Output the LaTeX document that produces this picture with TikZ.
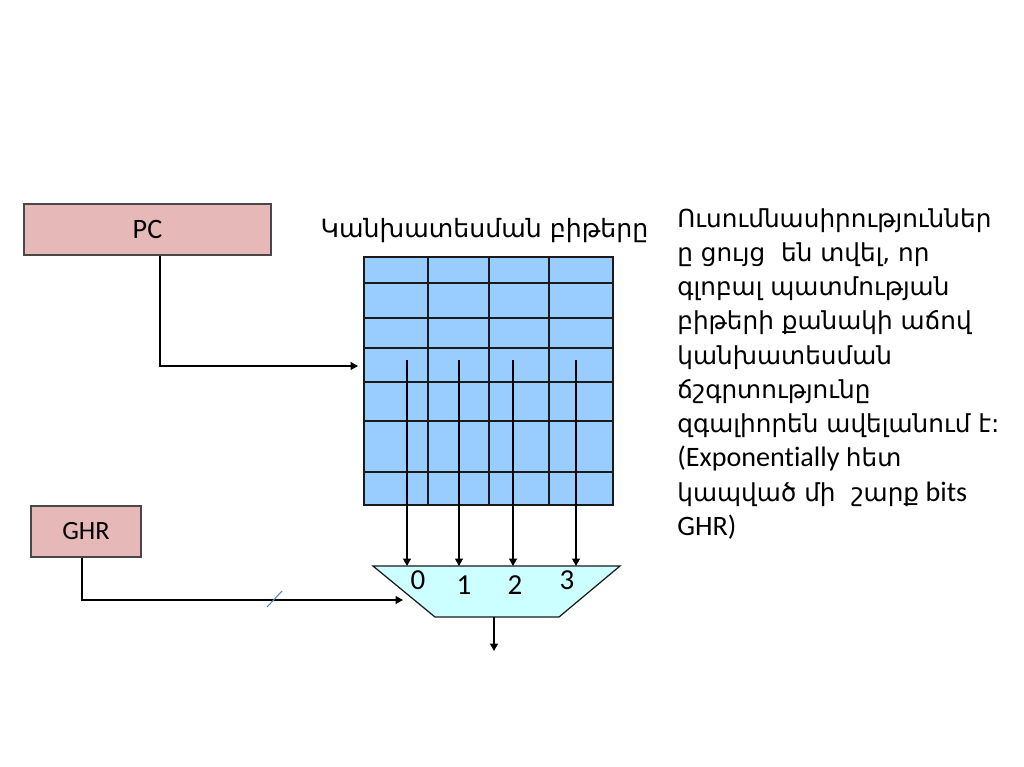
\documentclass[tikz,border=0pt]{standalone}
\usepackage{fontspec}
\setmainfont{Carlito}[Ligatures=NoCommon]
\newfontfamily\armfont[Scale=0.88]{DejaVu Sans}
\usetikzlibrary{arrows.meta,positioning,shapes.geometric}
\usepackage{xcolor}
\definecolor{regpink}{HTML}{E6B9B8}
\definecolor{tableblue}{HTML}{99CCFF}
\definecolor{muxcyan}{HTML}{CCFFFF}
\definecolor{dark}{HTML}{1A1A1A}
\definecolor{slashblue}{HTML}{5B7DB1}
\newcommand{\hy}[1]{{\armfont #1}}
\tikzset{
  reg/.style={draw=dark!80, line width=0.7pt, fill=regpink, minimum height=1.02cm, inner sep=0pt, font=\fontsize{16}{18}\selectfont},
  table/.style={draw=dark, line width=0.7pt, fill=tableblue, minimum width=4.98cm, minimum height=4.96cm, inner sep=0pt},
  muxbody/.style={draw=dark, line width=0.7pt, fill=muxcyan},
  gridline/.style={draw=dark, line width=0.7pt},
  arrow/.style={-{Triangle[length=1.5mm,width=1.6mm]}, line width=0.8pt, draw=black},
  digit/.style={font=\fontsize{16.5}{18}\selectfont, inner sep=0pt}
}
\begin{document}
\begin{tikzpicture}[x=0.02cm, y=-0.02cm]
  \useasboundingbox (0,0) rectangle (1024,767);
  \node[reg, minimum width=4.94cm] (pc) at (147.5,229.5) {PC};
  \node[reg, minimum width=2.2cm, font=\fontsize{15}{18}\selectfont] (ghr) at (86,531.5) {GHR};
  \node[table] (grid) at (488.5,381) {};
  \foreach \y in {283,318,348,382,421,472}
    \draw[gridline] (grid.west |- 0,\y) -- (grid.east |- 0,\y);
  \foreach \x in {428,489,549}
    \draw[gridline] (grid.north -| \x,0) -- (grid.south -| \x,0);
  \node[anchor=base, font=\fontsize{16.3}{18}\armfont] (title) at (484.5,237) {Կանխատեսման բիթերը};
  % mux
  \coordinate (mtl) at (373,566);
  \coordinate (mtr) at (620,566);
  \coordinate (mbr) at (559,617);
  \coordinate (mbl) at (435,617);
  \draw[muxbody] (mtl) -- (mtr) -- (mbr) -- (mbl) -- cycle;
  % taps from the table into the mux inputs
  \foreach \x/\n in {407/0,459/1,513/2,576/3} {
    \coordinate (tap\n) at (\x,360);
    \draw[arrow] (tap\n) -- (tap\n |- mtl);
  }
  \node[digit] (d0) at (418,580) {0};
  \node[digit] (d1) at (464,585) {1};
  \node[digit] (d2) at (515,585) {2};
  \node[digit] (d3) at (567,580) {3};
  \coordinate (pcin) at (358,366);
  \coordinate (selin) at (403,600);
  \coordinate (muxout) at (494,651);
  \draw[arrow] ([xshift=0.25cm]pc.south) |- (pcin);
  \draw[arrow] ([xshift=-0.08cm]ghr.south) |- (selin);
  \draw[arrow] (muxout |- mbl) -- (muxout);
  \draw[slashblue, line width=0.6pt] (267,607) -- (282,591);
  \node[anchor=north west, align=left, inner sep=0pt, font=\fontsize{16}{19.5}\selectfont] (note) at (677,208)
    {\hy{Ուսումնասիրություններ}\\
     \hy{ը ցույց\ \ են տվել, որ}\\
     \hy{գլոբալ պատմության}\\
     \hy{բիթերի քանակի աճով}\\
     \hy{կանխատեսման}\\
     \hy{ճշգրտությունը}\\
     \hy{զգալիորեն ավելանում է:}\\
     (Exponentially \hy{հետ}\\
     \hy{կապված մի\ \ շարք} bits\\
     GHR)};
\end{tikzpicture}
\end{document}
